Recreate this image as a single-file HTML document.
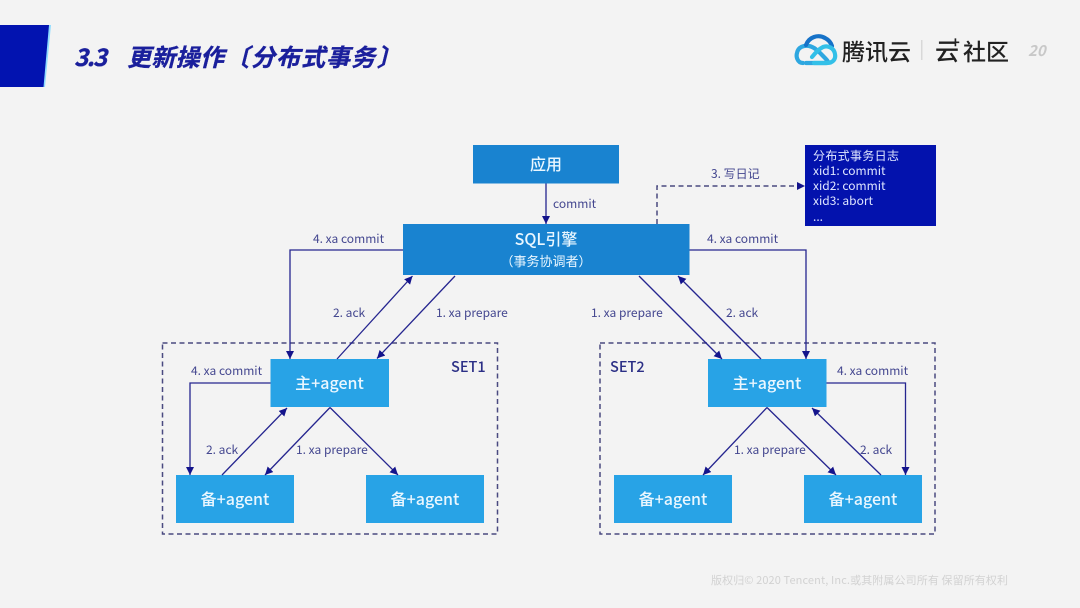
<!DOCTYPE html>
<html>
<head>
<meta charset="utf-8">
<style>
html,body{margin:0;padding:0;background:#f3f3f3;}
svg{display:block;filter:blur(0.3px);}
.n{font-family:"Noto Sans CJK SC","Liberation Sans",sans-serif;}
.t{font-family:"Noto Sans CJK SC","Liberation Sans",sans-serif;font-size:24px;font-weight:700;font-style:italic;fill:#1a1f9c;stroke:#1a1f9c;stroke-width:0.35;}
.l{font-family:"Noto Sans CJK SC","Liberation Sans",sans-serif;font-size:12px;fill:#43468f;}
.b{font-family:"Noto Sans CJK SC","Liberation Sans",sans-serif;font-size:16px;fill:#eaf7ff;text-anchor:middle;font-weight:500;}
.g{font-family:"Noto Sans CJK SC","Liberation Sans",sans-serif;font-size:12px;fill:#dfe6ff;}
.c{fill:none;stroke:#25258f;stroke-width:1.3;}
.d{fill:none;stroke:#4a4a80;stroke-width:1.500;stroke-dasharray:5 3.5;}
</style>
</head>
<body>
<svg width="1080" height="608" viewBox="0 0 1080 608" xmlns="http://www.w3.org/2000/svg">
<defs>
<marker id="a" markerUnits="userSpaceOnUse" markerWidth="10" markerHeight="10" refX="8" refY="4" orient="auto">
<path d="M0 0L8 4L0 8Z" fill="#14148c"/>
</marker>
</defs>
<rect width="1080" height="608" fill="#f3f3f3"/>

<!-- header -->
<polygon points="0,25 51,25 45,87 0,87" fill="#8fdcff"/>
<polygon points="0,25 49,25 43.500,87 0,87" fill="#0213b0"/>
<text class="t" x="74" y="66" textLength="33" lengthAdjust="spacing">3.3</text>
<text class="t" x="127" y="66" textLength="97" lengthAdjust="spacing">更新操作</text>
<text class="t" x="225" y="66">〔</text>
<text class="t" x="251" y="66" textLength="124" lengthAdjust="spacing">分布式事务</text>
<text class="t" x="377" y="66">〕</text>

<!-- logo -->
<g fill="none" stroke-width="4.200" stroke-linecap="round">
<path d="M803 63C797 63 796 56 797 53C798 47 804 45 809 46C815 47 820 53 824 57C827 60 830 63 826 63L806 63" stroke="#2ea7e0"/>
<path d="M806 45C809 37 818 34 825 38C829 40 831 43 832 46" stroke="#1672c8"/>
<path d="M814 63L827 63C833 63 836 59 835 54C834 48 828 45 823 47C819 49 816 52 812 57" stroke="#33c0e8"/>
</g>
<text class="n" x="842" y="60" font-size="23" font-weight="500" fill="#222">腾讯云</text>
<rect x="921" y="40" width="1.500" height="20" fill="#d8d8d8"/>
<text class="n" x="935" y="60" font-size="24" font-weight="500" fill="#222">云</text>
<text class="n" x="951" y="48" font-size="15" font-weight="700" fill="#222">+</text>
<text class="n" x="963" y="60" font-size="23" font-weight="500" fill="#222">社区</text>
<text class="n" x="1028" y="56" font-size="15" font-weight="700" font-style="italic" fill="#c8c8c8">20</text>

<!-- SET frames -->
<rect x="162.500" y="343" width="335" height="191" class="d"/>
<rect x="600" y="343" width="335" height="191" class="d"/>

<!-- boxes -->
<rect x="473" y="145" width="146" height="38.500" fill="#1983d0"/>
<rect x="403" y="224" width="286.500" height="51" fill="#1983d0"/>
<rect x="805" y="145" width="131" height="81" fill="#0312ad"/>
<g fill="#28a3e6">
<rect x="270.500" y="359" width="118.500" height="48"/>
<rect x="176" y="475" width="118" height="48"/>
<rect x="366" y="475" width="118" height="48"/>
<rect x="708" y="359" width="118.500" height="48"/>
<rect x="614" y="475" width="118" height="48"/>
<rect x="804" y="475" width="118" height="48"/>
</g>

<!-- connectors -->
<path class="c" d="M546 183.500V224" marker-end="url(#a)"/>
<path class="d" d="M657 224V186H798"/>
<path d="M797 182L805 186L797 190Z" fill="#14148c"/>
<path class="c" d="M403 250H290V359" marker-end="url(#a)"/>
<path class="c" d="M337 359L412.500 276" marker-end="url(#a)"/>
<path class="c" d="M455 276L377 358.500" marker-end="url(#a)"/>
<path class="c" d="M639 276L722 359" marker-end="url(#a)"/>
<path class="c" d="M761 359L678 276" marker-end="url(#a)"/>
<path class="c" d="M689.500 250H806V359" marker-end="url(#a)"/>
<path class="c" d="M270.500 383H190V475" marker-end="url(#a)"/>
<path class="c" d="M222 475L287 408" marker-end="url(#a)"/>
<path class="c" d="M330 407.500L265 475" marker-end="url(#a)"/>
<path class="c" d="M330 407.500L398 475" marker-end="url(#a)"/>
<path class="c" d="M767 407.500L703 475" marker-end="url(#a)"/>
<path class="c" d="M767 407.500L836 475" marker-end="url(#a)"/>
<path class="c" d="M881 475L812 408" marker-end="url(#a)"/>
<path class="c" d="M826.500 383H905.500V475" marker-end="url(#a)"/>

<!-- box labels -->
<text class="b" x="546" y="170">应用</text>
<text class="b" x="546" y="245">SQL引擎</text>
<text class="n" x="546" y="266" font-size="13" fill="#eaf7ff" text-anchor="middle">（事务协调者）</text>
<text class="b" x="329.500" y="389">主+agent</text>
<text class="b" x="235" y="505">备+agent</text>
<text class="b" x="425" y="505">备+agent</text>
<text class="b" x="767" y="389">主+agent</text>
<text class="b" x="673" y="505">备+agent</text>
<text class="b" x="863" y="505">备+agent</text>

<!-- log -->
<text class="g" x="813" y="160" textLength="86" lengthAdjust="spacing">分布式事务日志</text>
<text class="g" x="813" y="175">xid1: commit</text>
<text class="g" x="813" y="190">xid2: commit</text>
<text class="g" x="813" y="205">xid3: abort</text>
<text class="g" x="813" y="221">...</text>

<!-- connector labels -->
<text class="l" x="553" y="208">commit</text>
<text class="l" x="711" y="178">3. 写日记</text>
<text class="l" x="313" y="243">4. xa commit</text>
<text class="l" x="707" y="243">4. xa commit</text>
<text class="l" x="333" y="317">2. ack</text>
<text class="l" x="436" y="317">1. xa prepare</text>
<text class="l" x="591" y="317">1. xa prepare</text>
<text class="l" x="726" y="317">2. ack</text>
<text class="l" x="191" y="375">4. xa commit</text>
<text class="l" x="837" y="375">4. xa commit</text>
<text class="l" x="206" y="454">2. ack</text>
<text class="l" x="296" y="454">1. xa prepare</text>
<text class="l" x="734" y="454">1. xa prepare</text>
<text class="l" x="860" y="454">2. ack</text>
<text class="n" x="451" y="372" font-size="14.500" font-weight="500" fill="#2b2f86">SET1</text>
<text class="n" x="610" y="372" font-size="14.500" font-weight="500" fill="#2b2f86">SET2</text>

<!-- footer -->
<text class="n" x="711" y="584" font-size="11" fill="#d2d2d2" textLength="297" lengthAdjust="spacing">版权归© 2020 Tencent, Inc.或其附属公司所有 保留所有权利</text>
</svg>
</body>
</html>
